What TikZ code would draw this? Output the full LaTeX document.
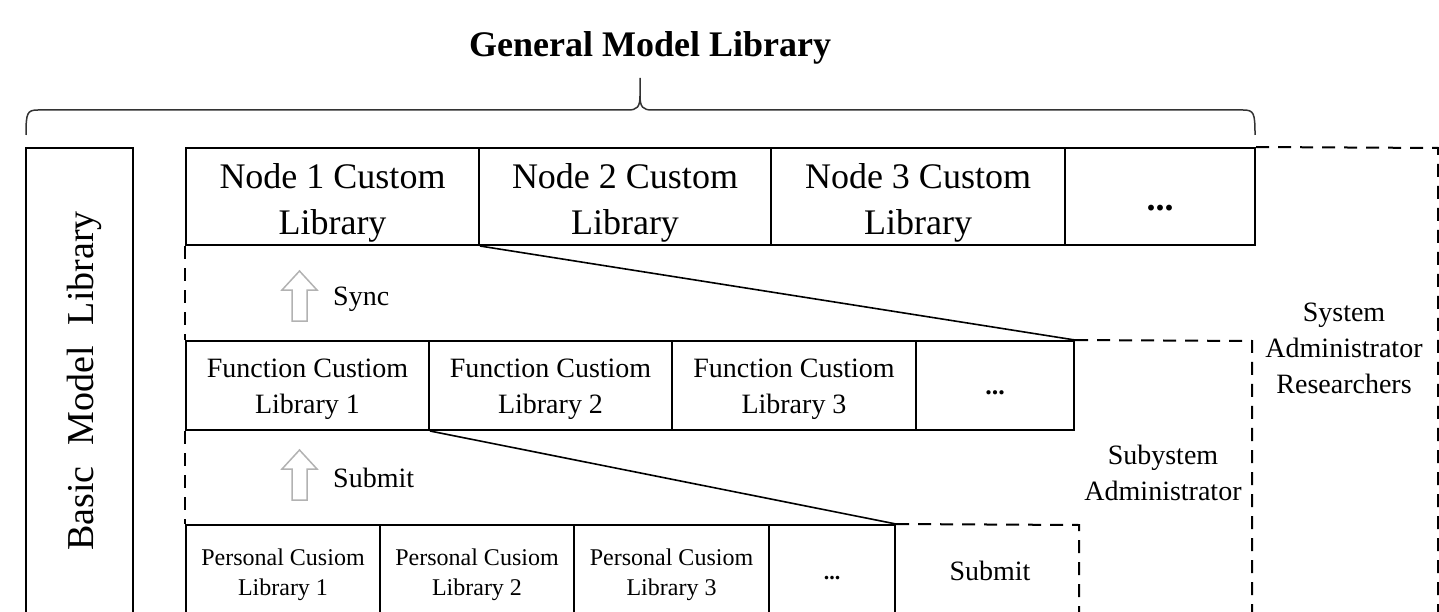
\documentclass[tikz,border=0pt]{standalone}
\usepackage{fontspec}
\setmainfont{Liberation Serif}
\begin{document}
\begin{tikzpicture}[x=1pt,y=-1pt,
  cell/.style={draw, line width=2pt, inner sep=0pt, align=center},
  topcell/.style={cell, minimum height=97pt, text height=85pt, text depth=8pt, font=\fontsize{36}{46}\selectfont},
  midcell/.style={cell, minimum height=89pt, text height=61pt, text depth=6pt, font=\fontsize{28}{36}\selectfont},
  botcell/.style={cell, minimum height=100pt, text height=45pt, text depth=5pt, font=\fontsize{24}{30}\selectfont},
  dashline/.style={line width=2pt, dash pattern=on 13pt off 9pt},
  thinline/.style={line width=1.6pt},
  lbl/.style={font=\fontsize{28}{36}\selectfont, align=center, inner sep=0pt},
  hollow/.style={draw=gray!60, line width=1.5pt, fill=white, line join=miter},
  bracestyle/.style={line width=1.5pt, draw=black!80}
]
\useasboundingbox (0,0) rectangle (1439,612);
\clip (0,0) rectangle (1439,612);

% title and brace
\node[font=\bfseries\fontsize{36}{40}\selectfont, anchor=base, inner sep=0pt] (title) at (650,57) {General Model Library};
\draw[bracestyle] (26,135) .. controls (26,113) and (27,110) .. (38,110) -- (628,110)
  .. controls (637,110) and (640,107) .. (640,96) -- (640,78);
\draw[bracestyle] (640,96) .. controls (640,107) and (643,110) .. (652,110) -- (1243,110)
  .. controls (1254,110) and (1255,113) .. (1255,135);

% basic model library
\node[draw, line width=2pt, minimum width=107pt, minimum height=552pt, inner sep=0pt] (basic) at (79.5,424) {};
\node[rotate=90, anchor=base, inner sep=0pt, font=\fontsize{38}{40}\selectfont] (basictext) at (93,381) {Basic\hspace{21pt}Model\hspace{21pt}Library};

% top row
\node[topcell, minimum width=293pt] (n1) at (332.5,196.5) {Node 1 Custom\\Library};
\node[topcell, minimum width=292pt] (n2) at (625,196.5) {Node 2 Custom\\Library};
\node[topcell, minimum width=294pt] (n3) at (918,196.5) {Node 3 Custom\\Library};
\node[cell, minimum height=97pt, minimum width=190pt] (n4) at (1160,196.5) {};
\node[font=\bfseries\fontsize{36}{40}\selectfont, inner sep=0pt] (n4d) at (1160,208) {...};

% middle row
\node[midcell, minimum width=243pt] (f1) at (307.5,385.5) {Function Custiom\\Library 1};
\node[midcell, minimum width=243pt] (f2) at (550.5,385.5) {Function Custiom\\Library 2};
\node[midcell, minimum width=244pt] (f3) at (794,385.5) {Function Custiom\\Library 3};
\node[cell, minimum height=89pt, minimum width=158pt] (f4) at (995,385.5) {};
\node[font=\bfseries\fontsize{26}{30}\selectfont, inner sep=0pt] (f4d) at (995,393) {...};

% bottom row
\node[botcell, minimum width=194pt] (b1) at (283,575) {Personal Cusiom\\Library 1};
\node[botcell, minimum width=194pt] (b2) at (477,575) {Personal Cusiom\\Library 2};
\node[botcell, minimum width=195pt] (b3) at (671.5,575) {Personal Cusiom\\Library 3};
\node[cell, minimum height=100pt, minimum width=126pt] (b4) at (832,575) {};
\node[font=\bfseries\fontsize{22}{26}\selectfont, inner sep=0pt] (b4d) at (832,578) {...};

% hollow arrows
\draw[hollow] (292,321) -- (292,290) -- (282,290) -- (299.5,271) -- (317,290) -- (307,290) -- (307,321) -- cycle;
\draw[hollow] (292,500) -- (292,469) -- (282,469) -- (299.5,450) -- (317,469) -- (307,469) -- (307,500) -- cycle;
\node[lbl, anchor=base west] (sync) at (333,305) {Sync};
\node[lbl, anchor=base west] (submit1) at (333,487) {Submit};

% connectors
\draw[thinline] (n1.south east) -- (f4.north east);
\draw[thinline] (f1.south east) -- (b4.north east);

\coordinate (sysTR) at (1438,148);
\coordinate (sysBR) at (1438,700);
\coordinate (subTR) at (1252,341);
\coordinate (subBR) at (1252,700);
\coordinate (botTR) at (1079,525);
\coordinate (botBR) at (1079,700);
\draw[dashline] (n4.north east) -- (sysTR) -- (sysBR);
\draw[dashline] (f4.north east) -- (subTR) -- (subBR);
\draw[dashline] (b4.north east) -- (botTR) -- (botBR);
\draw[dashline] (n1.south west) -- (f1.north west);
\draw[dashline] (f1.south west) -- (b1.north west);

% labels
\node[lbl, anchor=base] (submit2) at (990,580) {Submit};
\node[lbl, anchor=base] (subadm) at (1163,500) {Subystem\\Administrator};
\node[lbl, anchor=base] (sysadm) at (1344,393) {System\\Administrator\\Researchers};
\end{tikzpicture}
\end{document}
